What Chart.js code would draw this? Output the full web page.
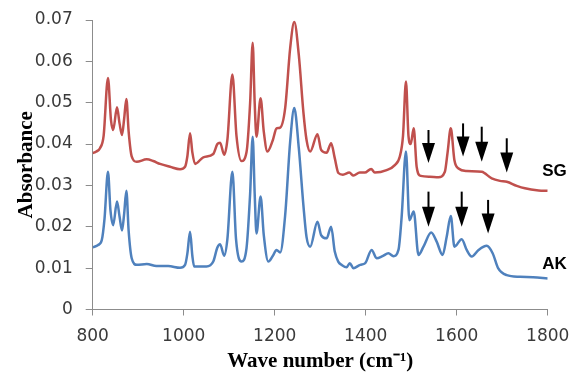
<!DOCTYPE html>
<html>
<head>
<meta charset="utf-8">
<script src="https://cdn.jsdelivr.net/npm/chart.js@4/dist/chart.umd.min.js"></script>
<style>
  html, body { margin: 0; padding: 0; background: #ffffff; }
  canvas { display: block; }
</style>
</head>
<body>
<canvas id="c" width="571" height="372"></canvas>
<script>
// ---- Data ----
const SG_WAVE = [800,808,816,824,833.6,840,845,853.4,859,864.4,869,874,879,885.7,896.7,918.7,933,948,970,992,1003,1008,1014,1019,1025,1043,1065,1074,1080,1089,1096,1107,1116,1127,1138,1146,1151.6,1156,1160,1169,1176,1184,1196,1204,1212,1223,1234,1243,1253,1263,1270,1278,1294,1302,1314,1324,1332,1340,1350,1364,1373,1387,1398,1412,1420,1446,1464,1475,1482,1488.5,1494,1499,1505.5,1512,1521,1541,1560,1574,1580,1587,1595,1604,1622,1655,1677,1695,1710,1732,1750,1780,1800];
const SG_ABS  = [0.0378,0.0382,0.0390,0.0420,0.0560,0.0460,0.0434,0.0489,0.0450,0.0422,0.0460,0.0509,0.0430,0.0370,0.0357,0.0363,0.0359,0.0352,0.0345,0.0339,0.0345,0.0370,0.0426,0.0380,0.0352,0.0368,0.0376,0.0400,0.0403,0.0374,0.0410,0.0568,0.0420,0.0359,0.0380,0.0500,0.0645,0.0500,0.0418,0.0511,0.0430,0.0382,0.0410,0.0438,0.0440,0.0487,0.0632,0.0695,0.0615,0.0478,0.0410,0.0382,0.0424,0.0386,0.0379,0.0402,0.0366,0.0330,0.0326,0.0331,0.0324,0.0331,0.0331,0.0340,0.0331,0.0337,0.0349,0.0370,0.0420,0.0551,0.0420,0.0400,0.0438,0.0345,0.0323,0.0321,0.0320,0.0333,0.0380,0.0438,0.0361,0.0341,0.0335,0.0333,0.0317,0.0311,0.0309,0.0299,0.0293,0.0288,0.0287];

const AK_WAVE = [800,812,820,826,833.6,839,845,853.4,859,864.4,869,874,879,885.7,897,919,940,966,992,1003,1008,1014,1019,1023,1050,1065,1074,1080,1089,1096,1107,1115,1127,1138,1146,1151.6,1156,1160,1169,1176,1186,1196,1204,1212,1223,1234,1243,1253,1263,1270,1278,1294,1302,1314,1324,1332,1340,1347,1358,1365,1373,1388,1399,1413,1424,1437,1450,1461,1472,1479,1488.5,1496,1505.5,1516,1527,1544,1556,1569,1578,1587,1595,1611,1622,1633,1648,1666,1679,1691,1710,1739,1768,1800];
const AK_ABS  = [0.0150,0.0156,0.0168,0.0220,0.0333,0.0240,0.0204,0.0261,0.0225,0.0191,0.0230,0.0287,0.0190,0.0124,0.0108,0.0110,0.0105,0.0105,0.0101,0.0108,0.0135,0.0188,0.0130,0.0104,0.0104,0.0116,0.0150,0.0158,0.0130,0.0170,0.0333,0.0170,0.0116,0.0148,0.0280,0.0418,0.0280,0.0184,0.0273,0.0180,0.0116,0.0130,0.0144,0.0138,0.0228,0.0406,0.0487,0.0390,0.0253,0.0175,0.0152,0.0212,0.0180,0.0172,0.0200,0.0140,0.0115,0.0108,0.0102,0.0112,0.0100,0.0108,0.0112,0.0144,0.0124,0.0129,0.0136,0.0129,0.0144,0.0224,0.0382,0.0216,0.0237,0.0132,0.0152,0.0186,0.0164,0.0132,0.0176,0.0226,0.0152,0.0170,0.0144,0.0128,0.0144,0.0154,0.0136,0.0100,0.0083,0.0079,0.0078,0.0075];

const X_TICK_LABELS = ['800','1000','1200','1400','1600','1800'];
const Y_TICK_LABELS = ['0','0.01','0.02','0.03','0.04','0.05','0.06','0.07'];

// arrows: wave number, top value, tip value
const SG_ARROW_X   = [1538, 1614, 1655, 1710];
const SG_ARROW_TOP = [0.0434, 0.0450, 0.0442, 0.0414];
const SG_ARROW_TIP = [0.0354, 0.0370, 0.0357, 0.0331];
const AK_ARROW_X   = [1538, 1611, 1669];
const AK_ARROW_TOP = [0.0285, 0.0285, 0.0265];
const AK_ARROW_TIP = [0.0200, 0.0200, 0.0184];

const SERIES_NAMES = ['SG', 'AK'];
const SERIES_LABEL_X = [1788, 1788];
const SERIES_LABEL_Y = [0.0335, 0.0109];

const RED = '#C0504D';
const BLUE = '#4F81BD';

function toPoints(xs, ys) { return xs.map((x, i) => ({ x: x, y: ys[i] })); }

const annotations = {
  id: 'annotations',
  afterDatasetsDraw(chart) {
    const ctx = chart.ctx;
    const xs = chart.scales.x, ys = chart.scales.y;
    const drawArrow = (xv, topv, tipv) => {
      const x = xs.getPixelForValue(xv);
      const yTop = ys.getPixelForValue(topv);
      const yTip = ys.getPixelForValue(tipv);
      const headH = 20, headW = 13;
      ctx.save();
      ctx.strokeStyle = '#000';
      ctx.fillStyle = '#000';
      ctx.lineWidth = 2;
      ctx.beginPath();
      ctx.moveTo(x, yTop);
      ctx.lineTo(x, yTip - headH + 2);
      ctx.stroke();
      ctx.beginPath();
      ctx.moveTo(x - headW / 2, yTip - headH);
      ctx.lineTo(x + headW / 2, yTip - headH);
      ctx.lineTo(x, yTip);
      ctx.closePath();
      ctx.fill();
      ctx.restore();
    };
    SG_ARROW_X.forEach((v, i) => drawArrow(v, SG_ARROW_TOP[i], SG_ARROW_TIP[i]));
    AK_ARROW_X.forEach((v, i) => drawArrow(v, AK_ARROW_TOP[i], AK_ARROW_TIP[i]));

    ctx.save();
    ctx.fillStyle = '#000';
    ctx.font = 'bold 17px "Liberation Sans", Arial, sans-serif';
    ctx.textAlign = 'left';
    ctx.textBaseline = 'middle';
    SERIES_NAMES.forEach((n, i) => {
      ctx.fillText(n, xs.getPixelForValue(SERIES_LABEL_X[i]), ys.getPixelForValue(SERIES_LABEL_Y[i]));
    });
    ctx.restore();
  }
};

new Chart(document.getElementById('c'), {
  type: 'line',
  data: {
    datasets: [
      { label: 'SG', data: toPoints(SG_WAVE, SG_ABS), borderColor: RED, borderWidth: 2.5, pointRadius: 0, cubicInterpolationMode: 'monotone', fill: false },
      { label: 'AK', data: toPoints(AK_WAVE, AK_ABS), borderColor: BLUE, borderWidth: 2.5, pointRadius: 0, cubicInterpolationMode: 'monotone', fill: false }
    ]
  },
  options: {
    responsive: false,
    animation: false,
    events: [],
    layout: { padding: { top: 20, right: 23.3, left: 0, bottom: 0 } },
    plugins: { legend: { display: false }, tooltip: { enabled: false } },
    scales: {
      x: {
        type: 'linear', min: 800, max: 1800,
        afterFit(s) { s.height = 62.5; s.paddingRight = 0; s.paddingLeft = 0; },
        ticks: {
          stepSize: 200,
          padding: 11,
          color: '#3a3a3a',
          font: { family: '"DejaVu Sans", sans-serif', size: 17 },
          callback: (v, i) => X_TICK_LABELS[i]
        },
        grid: { drawOnChartArea: false, drawTicks: true, tickLength: 6, color: '#8c8c8c' },
        border: { color: '#8c8c8c', width: 1 },
        title: {
          display: true,
          text: 'Wave number (cm\u207B\u00B9)',
          color: '#000',
          font: { family: '"Liberation Serif", "Times New Roman", serif', size: 21, weight: 'bold', lineHeight: 1 },
          padding: { top: 0, bottom: 0 }
        }
      },
      y: {
        min: 0, max: 0.07,
        afterFit(s) { s.width = 92.7; s.paddingTop = 0; s.paddingBottom = 0; },
        ticks: {
          stepSize: 0.01,
          padding: 13,
          color: '#3a3a3a',
          font: { family: '"DejaVu Sans", sans-serif', size: 17 },
          callback: (v, i) => Y_TICK_LABELS[i]
        },
        grid: { drawOnChartArea: false, drawTicks: true, tickLength: 7, color: '#8c8c8c' },
        border: { color: '#8c8c8c', width: 1 },
        title: {
          display: true,
          text: 'Absorbance',
          color: '#000',
          font: { family: '"Liberation Serif", "Times New Roman", serif', size: 21, weight: 'bold', lineHeight: 1 },
          padding: { top: 16.5, bottom: 0 }
        }
      }
    }
  },
  plugins: [annotations]
});
</script>
</body>
</html>
